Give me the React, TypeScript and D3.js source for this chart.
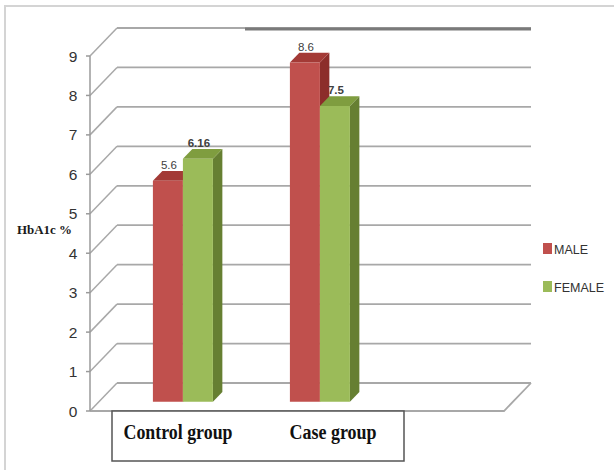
import React from "react";
import * as d3 from "d3";

// Data
const categories = ["Control group", "Case group"];
const series = ["MALE", "FEMALE"];
const maleValues = [5.6, 8.6];
const femaleValues = [6.16, 7.5];
const yTicks = [0, 1, 2, 3, 4, 5, 6, 7, 8, 9];

const W = 614;
const H = 470;

// 3D depth offset of the back wall relative to the front plane
const DEPTH_DX = 27;
const DEPTH_DY = -28;
const BAR_Z0 = 0.33;
const BAR_Z1 = 0.68;

const faceColors: Record<string, { front: string; top: string; side: string }> = {
  MALE: { front: "#C0504D", top: "#A33A36", side: "#8C2D2A" },
  FEMALE: { front: "#9BBB59", top: "#7F9D3F", side: "#667F32" },
};

export default function App() {
  const axisX = 90;
  const y = d3.scaleLinear().domain([0, 9]).range([411, 56]);
  const x = d3.scaleBand<string>().domain(categories).range([105.5, 379.5]);
  const inner = d3.scaleBand<string>().domain(series).range([-30, 30]);
  const labelX = d3.scalePoint<string>().domain(categories).range([178, 333]);

  const backRight = 531;
  const floorFrontRight = backRight - DEPTH_DX;

  const P = (px: number, py: number, z: number) => [px + z * DEPTH_DX, py + z * DEPTH_DY];
  const poly = (pts: number[][]) => pts.map((p) => p.join(",")).join(" ");

  const data = categories.flatMap((c, i) => [
    { cat: c, s: "MALE", v: maleValues[i], bold: false },
    { cat: c, s: "FEMALE", v: femaleValues[i], bold: true },
  ]);

  const gridColor = "#A8A8A8";

  return (
    <svg
      width={W}
      height={H}
      style={{ position: "absolute", left: 0, top: 0, background: "#fff" }}
    >
      {/* outer frame */}
      <rect x={5} y={6} width={640} height={500} fill="none" stroke="#D4D4D4" strokeWidth={2} />

      {/* left wall diagonals and back wall gridlines */}
      {yTicks.map((t) => {
        const [bx, by] = P(axisX, y(t), 1);
        return (
          <g key={t}>
            <line x1={axisX} y1={y(t)} x2={bx} y2={by} stroke={gridColor} strokeWidth={1.5} />
            <line x1={bx} y1={by} x2={backRight} y2={by} stroke={gridColor} strokeWidth={1.8} />
          </g>
        );
      })}
      {/* accent on the top back line */}
      <line x1={245} y1={y(9) + DEPTH_DY + 1} x2={backRight} y2={y(9) + DEPTH_DY + 1} stroke="#7A7A7A" strokeWidth={3} />

      {/* floor */}
      <polyline
        points={poly([
          [axisX, y(0)],
          [floorFrontRight, y(0)],
          [backRight, y(0) + DEPTH_DY],
        ])}
        fill="none"
        stroke={gridColor}
        strokeWidth={1.8}
      />

      {/* y axis */}
      <line x1={axisX} y1={y(9)} x2={axisX} y2={y(0)} stroke="#9A9A9A" strokeWidth={1.5} />
      {yTicks.map((t) => (
        <g key={"t" + t}>
          <line x1={axisX - 4} y1={y(t)} x2={axisX} y2={y(t)} stroke="#9A9A9A" strokeWidth={1.5} />
          <text
            x={73}
            y={y(t) + 5.5}
            textAnchor="middle"
            fontFamily="Liberation Sans, Arial, sans-serif"
            fontSize={15.5}
            fill="#333"
          >
            {t}
          </text>
        </g>
      ))}

      {/* 3D bars */}
      {data.map((d) => {
        const x0 = (x(d.cat) as number) + x.bandwidth() / 2 + (inner(d.s) as number);
        const x1 = x0 + inner.bandwidth();
        const yb = y(0);
        const yt = y(d.v);
        const c = faceColors[d.s];
        const fBL = P(x0, yb, BAR_Z0);
        const fBR = P(x1, yb, BAR_Z0);
        const fTL = P(x0, yt, BAR_Z0);
        const fTR = P(x1, yt, BAR_Z0);
        const bTL = P(x0, yt, BAR_Z1);
        const bTR = P(x1, yt, BAR_Z1);
        const bBR = P(x1, yb, BAR_Z1);
        const cx = (fTL[0] + fTR[0]) / 2;
        return (
          <g key={d.cat + d.s}>
            <polygon points={poly([fBR, fTR, bTR, bBR])} fill={c.side} />
            <polygon points={poly([fTL, fTR, bTR, bTL])} fill={c.top} />
            <polygon points={poly([fBL, fBR, fTR, fTL])} fill={c.front} />
            <text
              x={cx + 1}
              y={fTL[1] - 12}
              textAnchor="middle"
              fontFamily="Liberation Sans, Arial, sans-serif"
              fontSize={11.5}
              fontWeight={d.bold ? "bold" : "normal"}
              fill="#404040"
            >
              {d.v}
            </text>
          </g>
        );
      })}

      {/* y axis title */}
      <text
        x={17}
        y={234}
        fontFamily="Liberation Serif, Times New Roman, serif"
        fontSize={12}
        fontWeight="bold"
        fill="#1a1a1a"
        textLength={55}
        lengthAdjust="spacingAndGlyphs"
      >
        HbA1c %
      </text>

      {/* category label box */}
      <rect x={112} y={411} width={292} height={50} fill="#fff" stroke="#555" strokeWidth={1.5} />
      {categories.map((c, i) => (
        <text
          key={c}
          x={labelX(c)}
          y={439}
          textAnchor="middle"
          fontFamily="Liberation Serif, Times New Roman, serif"
          fontSize={20}
          fontWeight="bold"
          fill="#111"
          textLength={i === 0 ? 109 : 87}
          lengthAdjust="spacingAndGlyphs"
        >
          {c}
        </text>
      ))}

      {/* legend */}
      {series.map((s, i) => (
        <g key={s} transform={`translate(543, ${243 + i * 38})`}>
          <rect x={0} y={0} width={9} height={11} fill={faceColors[s].front} />
          <text
            x={11}
            y={10.5}
            fontFamily="Liberation Sans, Arial, sans-serif"
            fontSize={13}
            fill="#333"
            textLength={s === "MALE" ? 34 : 50}
            lengthAdjust="spacingAndGlyphs"
          >
            {s}
          </text>
        </g>
      ))}
    </svg>
  );
}
